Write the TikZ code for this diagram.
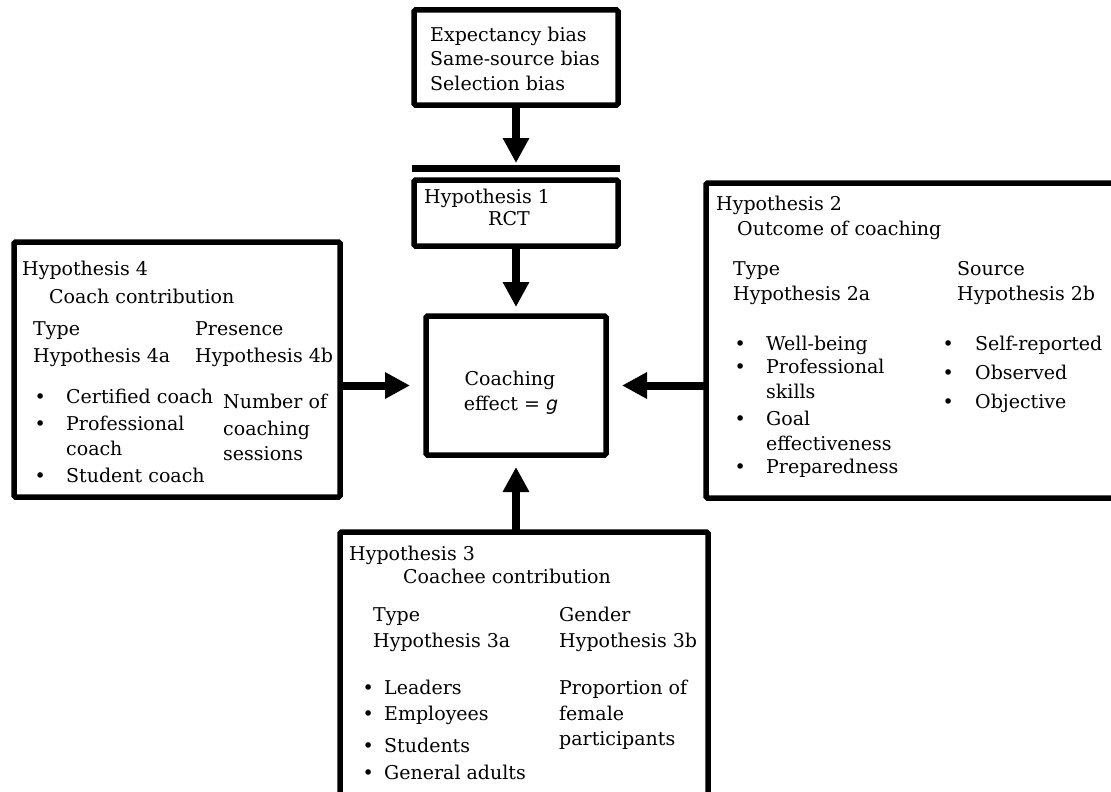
\documentclass[tikz,border=0pt]{standalone}
\usepackage{fontspec}
\setmainfont{DejaVu Serif}
\setsansfont{DejaVu Sans}
\usetikzlibrary{arrows.meta,positioning,calc}
\newcommand\bul[1]{\llap{\makebox[#1][c]{\textbullet}}}

\begin{document}
\begin{tikzpicture}[x=1pt,y=-1pt,
  box/.style={draw,line width=5.5pt,rounded corners=1.5pt,inner sep=0pt,outer sep=0pt},
  txt/.style={anchor=base west,inner sep=0pt,font=\fontsize{19pt}{24pt}\selectfont},
  arr/.style={line width=8pt,-{Triangle[width=25pt,length=25pt]}},
  bar/.style={line width=7pt}]
\useasboundingbox (0,0) rectangle (1111,792);
\clip (0,0) rectangle (1111,792);

% boxes
\node[box,minimum width=204pt,minimum height=95pt] (bias) at (516,57.5) {};
\node[box,minimum width=204pt,minimum height=66pt] (hyp1) at (516,213) {};
\node[box,minimum width=180pt,minimum height=139pt] (core) at (516,385.5) {};
\node[box,minimum width=326pt,minimum height=255pt] (coach) at (177,369.5) {};
\node[box,minimum width=424pt,minimum height=315pt] (outcome) at (918,340.5) {};
\node[box,minimum width=368pt,minimum height=283pt] (coachee) at (524,673.5) {};
\coordinate (barL) at (412,168);
\coordinate (barR) at (620,168);
\draw[bar] (barL) -- (barR);

% biases
\foreach \y/\t [count=\i] in {42/Expectancy bias,66/Same-source bias,91/Selection bias}
  \node[txt] (bias\i) at (430,\y) {\t};

% hypothesis 1
\node[txt] (h1) at (424,203) {Hypothesis 1};
\node[txt] (rct) at (488,225) {RCT};

% coaching effect
\node[txt,anchor=base] (eff1) at (510,385) {Coaching};
\node[txt,anchor=base] (eff2) at (511,410) {effect = \textsf{\itshape g}};

% hypothesis 4
\node[txt] (h4) at (22,275) {Hypothesis 4};
\node[txt] (h4t) at (49,303) {Coach contribution};
\node[txt] (h4a) at (33,335) {Type};
\node[txt] (h4a0) at (33,362) {Hypothesis 4a};
\node[txt] (h4b) at (195,335) {Presence};
\node[txt] (h4b0) at (195,362) {Hypothesis 4b};
\foreach \y/\t [count=\i] in {403/\bul{52pt}Certified coach,430/\bul{52pt}Professional,455/coach,482/\bul{52pt}Student coach}
  \node[txt] (h4a\i) at (66,\y) {\t};
\foreach \y/\t [count=\i] in {408/Number of,435/coaching,460/sessions}
  \node[txt] (h4b\i) at (223,\y) {\t};

% hypothesis 2
\node[txt] (h2) at (716,210) {Hypothesis 2};
\node[txt] (h2t) at (737,235) {Outcome of coaching};
\node[txt] (h2a) at (733,275) {Type};
\node[txt] (h2a0) at (733,300) {Hypothesis 2a};
\node[txt] (h2b) at (957,275) {Source};
\node[txt] (h2b0) at (957,300) {Hypothesis 2b};
\foreach \y/\t [count=\i] in {350/\bul{52pt}Well-being,373/\bul{52pt}Professional,398/skills,425/\bul{52pt}Goal,450/effectiveness,473/\bul{52pt}Preparedness}
  \node[txt] (h2a\i) at (766,\y) {\t};
\foreach \y/\t [count=\i] in {350/Self-reported,379/Observed,408/Objective}
  \node[txt] (h2b\i) at (975,\y) {\bul{54pt}\t};

% hypothesis 3
\node[txt] (h3) at (349,560) {Hypothesis 3};
\node[txt] (h3t) at (403,583) {Coachee contribution};
\node[txt] (h3a) at (373,621) {Type};
\node[txt] (h3a0) at (373,647) {Hypothesis 3a};
\node[txt] (h3b) at (559,621) {Gender};
\node[txt] (h3b0) at (559,647) {Hypothesis 3b};
\foreach \y/\t [count=\i] in {694/Leaders,720/Employees,752/Students,779/General adults}
  \node[txt] (h3a\i) at (384,\y) {\bul{32pt}\t};
\foreach \y/\t [count=\i] in {694/Proportion of,720/female,745/participants}
  \node[txt] (h3b\i) at (559,\y) {\t};

% arrows
\draw[arr] (bias.south) -- ($(bias.south |- barL)+(0,-5)$);
\draw[arr] (hyp1.south) -- ($(core.north)+(0,-9)$);
\draw[arr] (coach.east |- core.west) -- ($(core.west)+(-16,0)$);
\draw[arr] (outcome.west |- core.east) -- ($(core.east)+(16,0)$);
\draw[arr] (core.south |- coachee.north) -- ($(core.south)+(0,12)$);
\end{tikzpicture}
\end{document}
